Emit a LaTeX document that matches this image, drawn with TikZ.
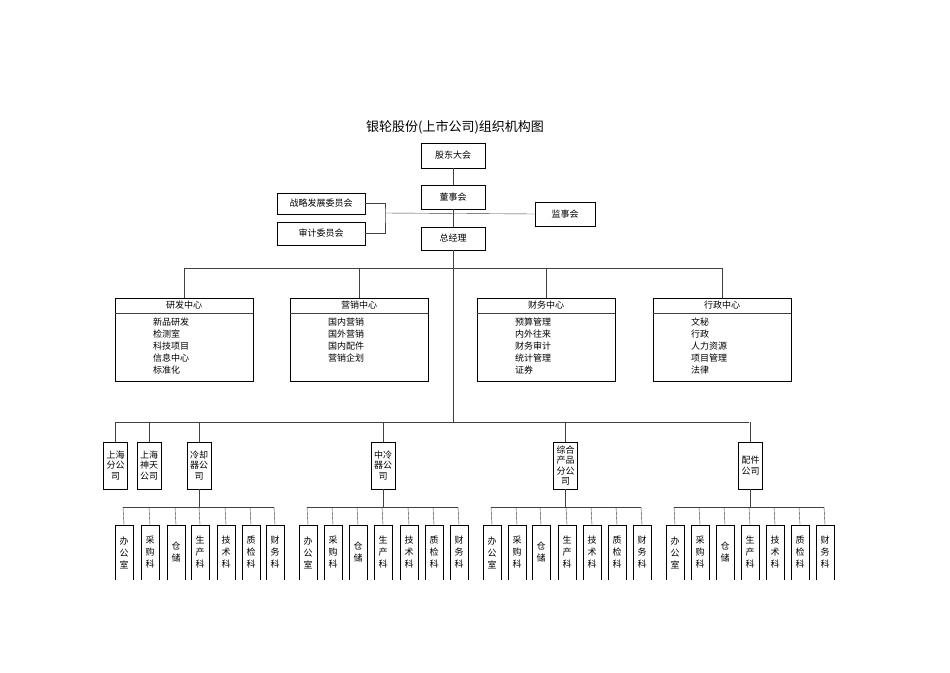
\documentclass[tikz,border=0pt]{standalone}
\usepackage{fontspec}
\setmainfont{Noto Sans CJK SC}
\begin{document}
\begin{tikzpicture}[x=1pt,y=-1pt,
  box/.style={draw,thin,inner sep=0pt,font=\fontsize{9}{10}\selectfont},
  center/.style={draw,thin,minimum width=138pt,minimum height=83pt,inner sep=0pt},
  sub/.style={draw,thin,minimum width=24pt,minimum height=47pt,inner sep=0pt,align=center,font=\fontsize{9}{10.5}\selectfont},
  dept/.style={minimum width=18pt,minimum height=55pt,inner sep=0pt,align=center,font=\fontsize{9}{12}\selectfont},
  ln/.style={thin,draw=black!75}]
\useasboundingbox (0,0) rectangle (950,672);
\node[font=\fontsize{13}{14}\selectfont] (title) at (455,127) {银轮股份(上市公司)组织机构图};
\node[box,minimum width=64pt,minimum height=25pt] (gd) at (453,155.5) {股东大会};
\node[box,minimum width=64pt,minimum height=24pt] (dsh) at (453,197) {董事会};
\node[box,minimum width=64pt,minimum height=23pt] (zjl) at (453,238.5) {总经理};
\node[box,minimum width=88pt,minimum height=21pt] (zl) at (321,203.5) {战略发展委员会};
\node[box,minimum width=88pt,minimum height=23pt] (sj) at (321,233.5) {审计委员会};
\node[box,minimum width=60pt,minimum height=24pt] (jsh) at (565,214) {监事会};
\coordinate (br) at (385,213);
\draw[ln] (gd) -- (dsh); \draw[ln] (dsh) -- (zjl);
\draw[ln] (zl.east) -| (br) |- (sj.east);
\draw[ln] (br) -- (jsh.west);
% centers
\foreach \n/\x/\h/\lines in {
  yf/184/研发中心/{新品研发\\检测室\\科技项目\\信息中心\\标准化},
  yx/359/营销中心/{国内营销\\国外营销\\国内配件\\营销企划},
  cw/546/财务中心/{预算管理\\内外往来\\财务审计\\统计管理\\证券},
  xz/722/行政中心/{文秘\\行政\\人力资源\\项目管理\\法律}}{
  \node[center] (\n) at (\x,339.5) {};
  \draw[ln] ([yshift=-15pt]\n.north west) -- ([yshift=-15pt]\n.north east);
  \node[font=\fontsize{9}{10}\selectfont] (\n h) at (\x,305.5) {\h};
  \node[font=\fontsize{9}{12}\selectfont,align=left,anchor=north west,inner sep=0pt] (\n t) at (\x-31,318) {\lines};
  \draw[ln] (zjl.south) ++(0,0) |- (\x,268) -- (\n.north);
}
\draw[ln] (zjl.south) -- (453,422);
\draw[ln] (115,422) -- (749,422);
% subsidiaries
\foreach \n/\x/\t in {s1/115.5/上海\\分公\\司, s2/149/上海\\神天\\公司, s3/199/冷却\\器公\\司, s4/383/中冷\\器公\\司, s5/565.5/综合\\产品\\分公\\司, s6/750.5/配件\\公司}{
  \node[sub] (\n) at (\x,465.5) {\t};
  \draw[ln] (\x,422) -- (\n.north);
}
% departments
\foreach \g/\s/\xs in {s3/g1/{123,149,175,199,225,250,274}, s4/g2/{307,332,357,382,408,433,458}, s5/g3/{491,516,540,566,591,616,641}, s6/g4/{674,699,724,749,774,799,824}}{
  \foreach \x [count=\i] in \xs {
    \ifcase\i\or\def\t{办\\公\\室}\or\def\t{采\\购\\科}\or\def\t{仓\\储}\or\def\t{生\\产\\科}\or\def\t{技\\术\\科}\or\def\t{质\\检\\科}\or\def\t{财\\务\\科}\fi
    \node[dept] (\s d\i) at (\x+1,552.5) {\t};
    \draw[thin] (\s d\i.south west) |- (\s d\i.north east) -- (\s d\i.south east);
    \draw[ln] (\x,507) -- (\s d\i.north);
  }
  \draw[ln] (\g.south) -- (\g.south |- 0,507);
}
\draw[ln] (123,507) -- (274,507);
\draw[ln] (307,507) -- (458,507);
\draw[ln] (491,507) -- (641,507);
\draw[ln] (674,507) -- (824,507);
\end{tikzpicture}
\end{document}
